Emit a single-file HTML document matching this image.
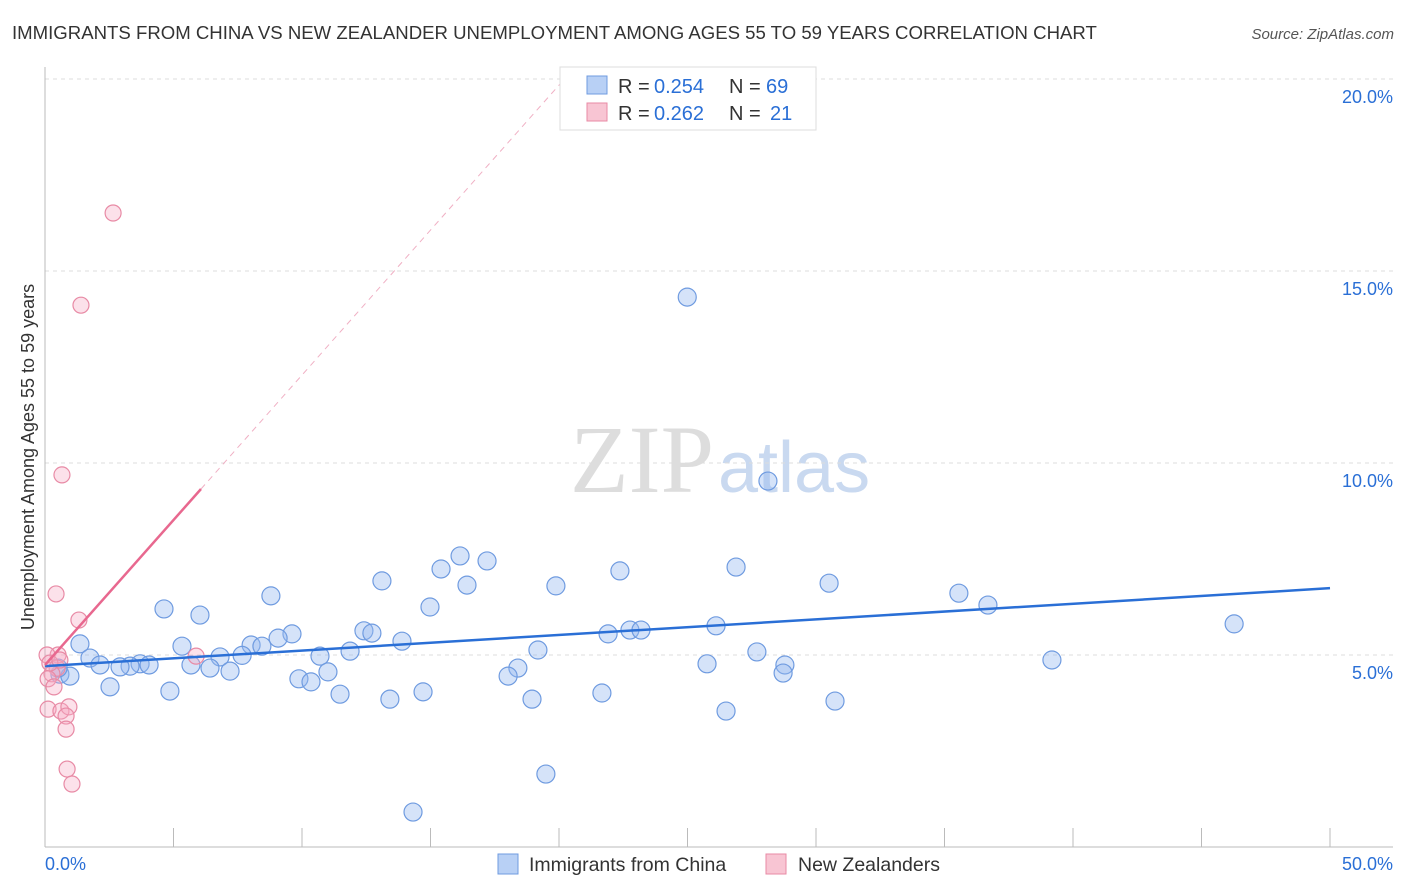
<!DOCTYPE html>
<html><head><meta charset="utf-8"><style>
body{margin:0;background:#fff;font-family:"Liberation Sans",sans-serif;}
svg{display:block}
</style></head><body>
<svg id="c" width="1406" height="892">
<text x="12" y="39" font-size="18.6" fill="#333">IMMIGRANTS FROM CHINA VS NEW ZEALANDER UNEMPLOYMENT AMONG AGES 55 TO 59 YEARS CORRELATION CHART</text>
<text x="1394" y="39" font-size="15" fill="#555" font-style="italic" text-anchor="end">Source: ZipAtlas.com</text>
<text x="714" y="492" font-size="96" fill="#ddd" text-anchor="end" font-family="Liberation Serif,serif">ZIP</text>
<text x="718" y="492" font-size="72" fill="#c9d9f0">atlas</text>
<g id="grid"></g><g id="axes"></g><g id="marks"></g>
<text transform="translate(34,457) rotate(-90)" font-size="18" fill="#333" text-anchor="middle">Unemployment Among Ages 55 to 59 years</text>
<g>
<rect x="560" y="67" width="256" height="63" fill="#fff" stroke="#ddd"/>
<rect x="587" y="76" width="20" height="18" fill="#b8d0f5" stroke="#6f9be0"/>
<rect x="587" y="103" width="20" height="18" fill="#f8c5d3" stroke="#e88aa5"/>
<text x="618" y="93" font-size="20" fill="#333">R =</text>
<text x="654" y="93" font-size="20" fill="#2a6fd6">0.254</text>
<text x="729" y="93" font-size="20" fill="#333">N =</text>
<text x="766" y="93" font-size="20" fill="#2a6fd6">69</text>
<text x="618" y="120" font-size="20" fill="#333">R =</text>
<text x="654" y="120" font-size="20" fill="#2a6fd6">0.262</text>
<text x="729" y="120" font-size="20" fill="#333">N =</text>
<text x="770" y="120" font-size="20" fill="#2a6fd6">21</text>
</g>
<g>
<rect x="498" y="854" width="20" height="20" fill="#b8d0f5" stroke="#6f9be0"/>
<text x="529" y="871" font-size="19.5" fill="#333">Immigrants from China</text>
<rect x="766" y="854" width="20" height="20" fill="#f8c5d3" stroke="#e88aa5"/>
<text x="798" y="871" font-size="19.5" fill="#333">New Zealanders</text>
</g>
</svg>
<script>
const yTicks=[5,10,15,20];
const yTickLabels=["5.0%","10.0%","15.0%","20.0%"];
const xTicks=[0,5,10,15,20,25,30,35,40,45,50];
const chinaX=[24.99,28.13,16.15,17.2,15.41,13.11,22.37,26.89,30.51,16.42,19.88,35.56,36.69,46.27,8.79,4.63,6.03,14.98,1.36,5.33,12.41,12.72,9.61,9.07,8.02,8.44,13.89,21.91,22.76,23.19,26.11,19.18,27.7,10.7,11.87,7.67,6.81,1.75,2.14,3.7,5.68,39.18,25.76,28.79,28.72,18.4,18.02,7.2,6.42,3.31,4.05,2.92,0.58,0.97,0.51,9.88,10.35,11.01,2.53,4.86,14.71,21.67,18.95,30.74,11.48,13.42,26.5,19.49,14.32];
const chinaY=[14.32,9.53,7.58,7.45,7.24,6.93,7.19,7.29,6.87,6.82,6.8,6.61,6.3,5.81,6.54,6.2,6.04,6.25,5.29,5.23,5.63,5.57,5.55,5.44,5.26,5.23,5.36,5.55,5.65,5.65,5.76,5.13,5.08,4.97,5.1,4.99,4.95,4.92,4.74,4.77,4.74,4.87,4.77,4.74,4.53,4.66,4.45,4.58,4.66,4.71,4.74,4.69,4.5,4.45,4.66,4.38,4.3,4.56,4.17,4.06,4.04,4.01,3.85,3.8,3.98,3.85,3.54,1.9,0.91];
const nzX=[2.65,1.4,0.66,0.43,1.32,5.88,0.51,0.08,0.47,0.27,0.12,0.35,0.12,0.62,0.93,0.82,0.82,0.86,1.05,0.19,0.58];
const nzY=[16.51,14.11,9.69,6.59,5.91,4.97,5.0,5.0,4.66,4.51,4.38,4.17,3.59,3.54,3.65,3.41,3.07,2.03,1.64,4.79,4.87];
const chinaTrend=[4.71,6.74];
const nzTrend=[4.74,0.755];
const X0=45,X1=1330,Y0=847,YPX=38.4;
const sx=v=>X0+(X1-X0)*v/50;
const sy=v=>Y0-v*YPX;
const NS="http://www.w3.org/2000/svg";
function mk(tag,parent,attrs){const e=document.createElementNS(NS,tag);for(const k in attrs)e.setAttribute(k,attrs[k]);parent.appendChild(e);return e;}
const grid=document.getElementById('grid'),axes=document.getElementById('axes'),marks=document.getElementById('marks');
yTicks.forEach((t,i)=>{
 const g=mk('line',grid,{x1:X0,x2:1393,y1:sy(t),y2:sy(t),stroke:'#ddd','stroke-dasharray':'4,4'});
 
 
 const l=mk('text',grid,{x:1393,y:sy(t)+24,'font-size':18,fill:'#2a6fd6','text-anchor':'end'});
 l.textContent=yTickLabels[i];
 
 
});
const ya=mk('line',axes,{x1:X0,x2:X0,y1:67,y2:Y0,stroke:'#bbb'});


const xa=mk('line',axes,{x1:X0,x2:1393,y1:Y0,y2:Y0,stroke:'#bbb'});


xTicks.forEach(t=>{
 const tk=mk('line',axes,{x1:sx(t),x2:sx(t),y1:828,y2:Y0,stroke:'#bbb'});
 
 
});
const xl0=mk('text',axes,{x:45,y:870,'font-size':18,fill:'#2a6fd6'});xl0.textContent='0.0%';


const xl1=mk('text',axes,{x:1393,y:870,'font-size':18,fill:'#2a6fd6','text-anchor':'end'});xl1.textContent='50.0%';


chinaX.forEach((v,i)=>{
 const c=mk('circle',marks,{cx:sx(v),cy:sy(chinaY[i]),r:9,fill:'rgba(150,185,240,0.4)',stroke:'#6f9be0','stroke-width':1.2});
 
 
});
nzX.forEach((v,i)=>{
 const c=mk('circle',marks,{cx:sx(v),cy:sy(nzY[i]),r:8,fill:'rgba(245,170,195,0.35)',stroke:'#e88aa5','stroke-width':1.2});
 
 
});
const bt=mk('line',marks,{x1:sx(0),y1:sy(chinaTrend[0]),x2:sx(50),y2:sy(chinaTrend[1]),stroke:'#2a6fd6','stroke-width':2.5});


const pEnd=6.07,dEnd=(20.3-nzTrend[0])/nzTrend[1];
const pt=mk('line',marks,{x1:sx(0),y1:sy(nzTrend[0]),x2:sx(pEnd),y2:sy(nzTrend[0]+nzTrend[1]*pEnd),stroke:'#e8688f','stroke-width':2.5});


const pd=mk('line',marks,{x1:sx(pEnd),y1:sy(nzTrend[0]+nzTrend[1]*pEnd),x2:sx(dEnd),y2:sy(20.3),stroke:'#f0b0c4','stroke-width':1,'stroke-dasharray':'6,5'});


</script>
</body></html>
